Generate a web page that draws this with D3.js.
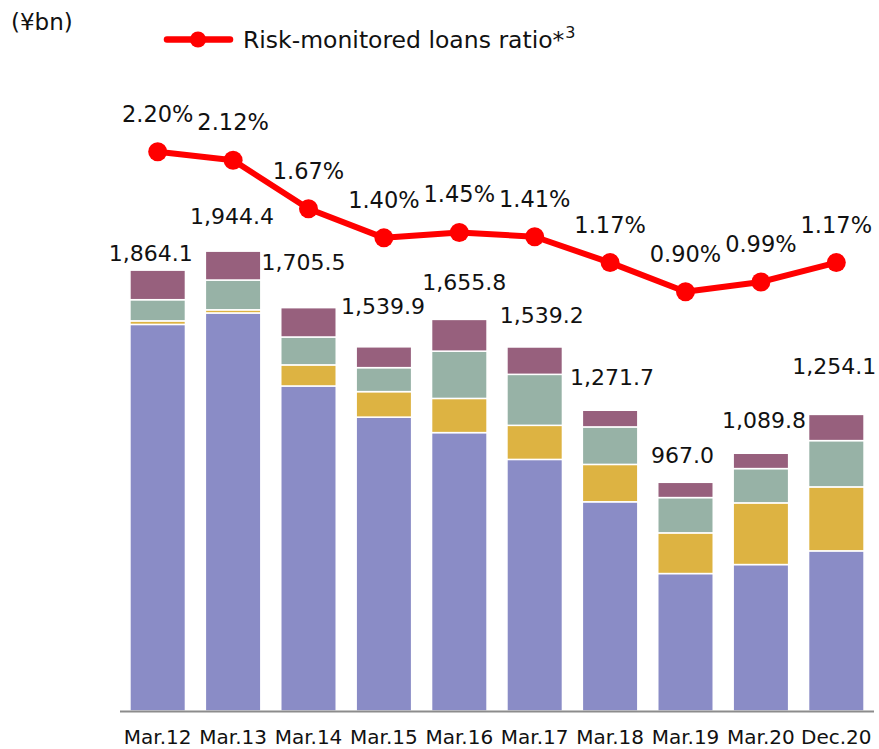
<!DOCTYPE html>
<html>
<head>
<meta charset="utf-8">
<script src="https://cdn.jsdelivr.net/npm/d3@7/dist/d3.min.js"></script>
<style>
  html, body { margin: 0; padding: 0; background: #fff; }
  svg text { font-family: "DejaVu Sans", Verdana, sans-serif; fill: #111; }
</style>
</head>
<body>
<svg id="chart" width="879" height="749"></svg>
<script>
// ---- data ----
const categories = ["Mar.12","Mar.13","Mar.14","Mar.15","Mar.16","Mar.17","Mar.18","Mar.19","Mar.20","Dec.20"];
const totals     = [1864.1, 1944.4, 1705.5, 1539.9, 1655.8, 1539.2, 1271.7, 967.0, 1089.8, 1254.1];
const seriesA    = [1634.6, 1683.1, 1374.3, 1242.6, 1177.1, 1063.8, 884.6, 581.2, 619.2, 677.1]; // bottom (purple)
const seriesB    = [15.0, 13.3, 89.2, 107.8, 144.6, 144.1, 158.1, 172.0, 260.8, 270.5];        // gold
const seriesC    = [89.5, 125.9, 117.9, 101.4, 199.9, 215.6, 158.5, 149.2, 145.0, 195.7];      // green
const seriesD    = [125.0, 122.1, 124.1, 88.1, 134.2, 115.7, 70.5, 64.6, 64.8, 110.8];        // top (mauve)
const ratio      = [2.20, 2.12, 1.67, 1.40, 1.45, 1.41, 1.17, 0.90, 0.99, 1.17];
const ratioLabels = ["2.20%","2.12%","1.67%","1.40%","1.45%","1.41%","1.17%","0.90%","0.99%","1.17%"];

// ---- layout (label nudges, px) ----
const totalLabelDx = [-7, -1, -5, -1, 5, 7, 2, -3, 3, -2];
const totalLabelDy = [-9, -27, -38, -33, -29, -24, -25, -19, -25, -40];

const colors = ["#8a8cc6", "#ddb342", "#97b2a6", "#97607d"];
const keys = ["a","b","c","d"];

const rows = categories.map((c, i) => ({cat: c, a: seriesA[i], b: seriesB[i], c: seriesC[i], d: seriesD[i]}));
const stack = d3.stack().keys(keys)(rows);

const svg = d3.select("#chart");

const x = d3.scaleBand().domain(categories).range([120, 874]).paddingInner(0.264).paddingOuter(0.132);
const y = d3.scaleLinear().domain([0, 2000]).range([711, 238]);
const yr = d3.scaleLinear().domain([0, 2.2]).range([388.6, 151.7]);

// bars
const layers = svg.append("g").selectAll("g").data(stack).join("g")
  .attr("fill", (d, i) => colors[i]);
layers.selectAll("rect").data(d => d).join("rect")
  .attr("x", d => x(d.data.cat))
  .attr("width", x.bandwidth())
  .attr("y", d => y(d[1]))
  .attr("height", d => y(d[0]) - y(d[1]))
  .attr("stroke", "#fff")
  .attr("stroke-width", 1.5);

// axis
const xAxis = svg.append("g").attr("transform", "translate(0,711)")
  .call(d3.axisBottom(x).tickSize(0).tickPadding(20));
xAxis.select(".domain").attr("stroke", "#8c8c8c").attr("stroke-width", 2).attr("d", "M120,0.5H874");
xAxis.selectAll("text").attr("font-size", 20).attr("fill", "#111")
  .attr("font-family", "DejaVu Sans, Verdana, sans-serif").attr("dy", "0.71em").attr("y", 19);

// total labels
svg.append("g").selectAll("text").data(categories).join("text")
  .attr("x", (d, i) => x(d) + x.bandwidth() / 2 + totalLabelDx[i])
  .attr("y", (d, i) => y(totals[i]) + totalLabelDy[i])
  .attr("text-anchor", "middle")
  .attr("font-size", 22)
  .text((d, i) => d3.format(",.1f")(totals[i]));

// ratio line
const line = d3.line().x((d, i) => x(categories[i]) + x.bandwidth() / 2).y(d => yr(d));
svg.append("path").datum(ratio).attr("d", line)
  .attr("fill", "none").attr("stroke", "#ff0000").attr("stroke-width", 6).attr("stroke-linejoin", "round");
svg.append("g").selectAll("circle").data(ratio).join("circle")
  .attr("cx", (d, i) => x(categories[i]) + x.bandwidth() / 2)
  .attr("cy", d => yr(d))
  .attr("r", 9.5)
  .attr("fill", "#ff0000");
svg.append("g").selectAll("text").data(ratio).join("text")
  .attr("x", (d, i) => x(categories[i]) + x.bandwidth() / 2)
  .attr("y", d => yr(d) - 30)
  .attr("text-anchor", "middle")
  .attr("font-size", 22.5)
  .text((d, i) => ratioLabels[i]);

// unit label
svg.append("text").attr("x", 11).attr("y", 30).attr("font-size", 23).text("(¥bn)");

// legend
const lg = svg.append("g");
lg.append("line").attr("x1", 167).attr("x2", 230).attr("y1", 39.5).attr("y2", 39.5)
  .attr("stroke", "#ff0000").attr("stroke-width", 6.5).attr("stroke-linecap", "round");
lg.append("circle").attr("cx", 198).attr("cy", 39.5).attr("r", 8).attr("fill", "#ff0000");
const lt = lg.append("text").attr("x", 243).attr("y", 48).attr("font-size", 23.5);
lt.append("tspan").text("Risk-monitored loans ratio*");
lt.append("tspan").attr("font-size", 16).attr("dx", 1).attr("dy", -10).text("3");
</script>
</body>
</html>
